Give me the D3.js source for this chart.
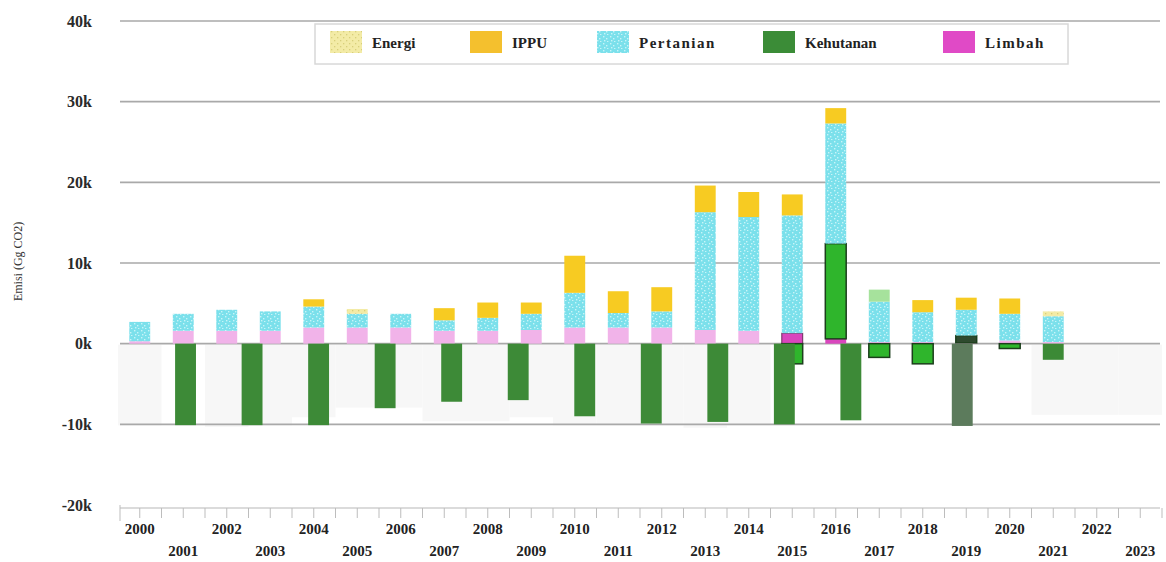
<!DOCTYPE html>
<html>
<head>
<meta charset="utf-8">
<script src="https://cdn.jsdelivr.net/npm/d3@7"></script>
<style>
  body { margin: 0; background: #fff; }
  text { font-family: "Liberation Serif", "DejaVu Serif", serif; }
</style>
</head>
<body>
<svg id="chart"></svg>
<script>
// Emisi per tahun (ribu Gg CO2)
const years = ["2000","2001","2002","2003","2004","2005","2006","2007","2008","2009","2010","2011",
               "2012","2013","2014","2015","2016","2017","2018","2019","2020","2021","2022","2023"];
const limbah    = [0.3, 1.6, 1.6, 1.6, 2.0, 2.0, 2.0, 1.6, 1.6, 1.7, 2.0, 2.0, 2.0, 1.7, 1.6, 1.3, 0.6, 0.2, 0.2, 0.1, 0.4, 0.2, 0, 0];
const kehutanan = [0, 0, 0, 0, 0, 0, 0, 0, 0, 0, 0, 0, 0, 0, 0, -2.5, 11.8, -1.7, -2.5, 0.9, -0.6, -2.0, 0, 0];
const pertanian = [2.4, 2.1, 2.6, 2.4, 2.6, 1.7, 1.7, 1.3, 1.6, 2.0, 4.3, 1.8, 2.0, 14.6, 14.1, 14.6, 14.9, 5.0, 3.7, 3.2, 3.3, 3.2, 0, 0];
const ippu      = [0, 0, 0, 0, 0.9, 0, 0, 1.5, 1.9, 1.4, 4.6, 2.7, 3.0, 3.3, 3.1, 2.6, 1.9, 0, 1.5, 1.5, 1.9, 0, 0, 0];
const energi    = [0, 0, 0, 0, 0, 0.6, 0, 0, 0, 0, 0, 0, 0, 0, 0, 0, 0, 1.5, 0, 0, 0, 0.6, 0, 0];
// serapan hutan (seri kedua, posisi sendiri)
const serapan   = [0, -10.1, -10.1, -10.1, -8.0, -7.2, -7.0, -9.0, -9.9, -9.7, -10.0, -9.5, 0, 0, 0, 0];
const serapanLain = [0, 0, 0, 0, 0, 0, 0, 0, 0, 0, 0, 0, 0, 0, 0, 0, 0, 0, 0, -10.2, 0, 0, 0, 0];
// bayangan abu-abu di bawah nol
const bayangan  = [-10, 0, -10.2, -10, -9, -7.8, -7.8, -9.5, -9.5, -9, -10, -10, -10, -10.3, -10, 0, 0, 0, 0, 0, 0, -8.7, -8.7, -8.7];

const yTicks = [-20, -10, 0, 10, 20, 30, 40];
const legendNames = ["Energi", "IPPU", "Pertanian", "Kehutanan", "Limbah"];

const width = 1166, height = 562;
const svg = d3.select("#chart").attr("width", width).attr("height", height);

const x = d3.scaleBand().domain(years).range([118, 1162]).paddingInner(0.52).paddingOuter(0.26);
const xs = d3.scalePoint().domain(d3.range(serapan.length)).range([119, 1117]);
const y = d3.scaleLinear().domain([-20, 40]).range([505, 21]);

// patterns
const defs = svg.append("defs");
const pPert = defs.append("pattern").attr("id", "pert").attr("patternUnits", "userSpaceOnUse")
    .attr("width", 7).attr("height", 7);
pPert.append("rect").attr("width", 7).attr("height", 7).attr("fill", "#7be0eb");
[[1, 1], [4, 3], [2, 5], [5, 6]].forEach(p => pPert.append("rect")
    .attr("x", p[0]).attr("y", p[1]).attr("width", 1.4).attr("height", 1.4).attr("fill", "#c8f4f8"));
const pEn = defs.append("pattern").attr("id", "energi").attr("patternUnits", "userSpaceOnUse")
    .attr("width", 6).attr("height", 6);
pEn.append("rect").attr("width", 6).attr("height", 6).attr("fill", "#f3eba6");
[[1, 1], [4, 4]].forEach(p => pEn.append("rect")
    .attr("x", p[0]).attr("y", p[1]).attr("width", 1.3).attr("height", 1.3).attr("fill", "#d8cf7a"));

const color = {
    Energi: "url(#energi)", IPPU: "#f7cb22", Pertanian: "url(#pert)",
    Kehutanan: "#2fb52c", Limbah: "#f1b3e9"
};

// ghost bars (very faint)
const step = x.step();
svg.append("g").selectAll("rect").data(years).enter().append("rect")
    .attr("x", d => x(d) - step * 0.26)
    .attr("width", step)
    .attr("y", y(0) + 1)
    .attr("height", (d, i) => y(bayangan[i]) - y(0))
    .attr("fill", "#f7f7f7");

// gridlines
svg.append("g").selectAll("line").data(yTicks.filter(d => d > -20)).enter()
    .append("line")
    .attr("x1", 120).attr("x2", 1160)
    .attr("y1", d => y(d)).attr("y2", d => y(d))
    .attr("stroke", "#a9a9a9").attr("stroke-width", 1.6);

// y axis labels
const yAxis = svg.append("g").attr("transform", "translate(100,0)")
    .call(d3.axisLeft(y).tickValues(yTicks).tickSize(0).tickPadding(8).tickFormat(d => d + "k"));
yAxis.select(".domain").remove();
yAxis.selectAll("text").style("font-family", "Liberation Serif, serif")
    .style("font-size", "16px").style("font-weight", "bold").attr("fill", "#2a2a2a");

svg.append("text")
    .attr("transform", "translate(22," + y(10.2) + ") rotate(-90)")
    .attr("text-anchor", "middle").style("font-size", "12px").attr("fill", "#333")
    .text("Emisi (Gg CO2)");

// bottom axis line and ticks
svg.append("line").attr("x1", 120).attr("x2", 1160).attr("y1", y(-20) + 3).attr("y2", y(-20) + 3)
    .attr("stroke", "#cfcfcf").attr("stroke-width", 1.5);
const tickXs = [];
years.forEach(d => { tickXs.push(x(d) + x.bandwidth() / 2); tickXs.push(x(d) + x.bandwidth() / 2 + step / 2); });
svg.append("g").selectAll("line").data(tickXs).enter().append("line")
    .attr("x1", d => d).attr("x2", d => d)
    .attr("y1", y(-20) + 3).attr("y2", y(-20) + 13)
    .attr("stroke", "#bdbdbd").attr("stroke-width", 1);
svg.append("line").attr("x1", 120).attr("x2", 120).attr("y1", y(-20)).attr("y2", y(-20) + 16)
    .attr("stroke", "#bdbdbd");

svg.append("g").selectAll("text").data(years).enter().append("text")
    .attr("x", d => x(d) + x.bandwidth() / 2)
    .attr("y", (d, i) => i % 2 === 0 ? 534 : 556)
    .attr("text-anchor", "middle")
    .style("font-size", "15px").style("font-weight", "bold").attr("fill", "#222")
    .text(d => d);

// stacked bars per year
const bw = x.bandwidth();
const g = svg.append("g");
years.forEach((yr, i) => {
    const segs = [
        { key: "Limbah", v: limbah[i] },
        { key: "Kehutanan", v: kehutanan[i] },
        { key: "Pertanian", v: pertanian[i] },
        { key: "IPPU", v: ippu[i] },
        { key: "Energi", v: energi[i] }
    ];
    let pos = 0, neg = 0;
    segs.forEach(s => {
        if (!s.v) return;
        let y0, y1;
        if (s.v > 0) { y0 = pos; y1 = pos + s.v; pos = y1; }
        else { y0 = neg + s.v; y1 = neg; neg = y0; }
        const r = g.append("rect")
            .attr("x", x(yr)).attr("width", bw)
            .attr("y", y(y1)).attr("height", y(y0) - y(y1))
            .attr("fill", color[s.key]);
        if (s.key === "Kehutanan") r.attr("stroke", "#1c3f1c").attr("stroke-width", 1.5);
        if (s.key === "Limbah" && yr === "2015") r.attr("fill", "#d946bd").attr("stroke", "#6a2a5a");
        if (s.key === "Limbah" && yr === "2016") r.attr("fill", "#d946bd");
        if (s.key === "Kehutanan" && yr === "2019") r.attr("fill", "#2e4a2e");
        if (s.key === "Kehutanan" && yr === "2021") r.attr("fill", "#3c8a36").attr("stroke", "none");
        if (s.key === "Energi" && yr === "2017") r.attr("fill", "#a6e29c");
    });
});

// second layer of forest sink bars
const serapanData = serapan.map((v, i) => ({ i: i, v: v })).filter(d => d.v < 0);
svg.append("g").selectAll("rect").data(serapanData).enter().append("rect")
    .attr("x", d => xs(d.i) - bw / 2)
    .attr("width", bw)
    .attr("y", y(0))
    .attr("height", d => y(d.v) - y(0))
    .attr("fill", "#3d8a37");
const lainData = years.map((yr, i) => ({ yr: yr, v: serapanLain[i] })).filter(d => d.v < 0);
svg.append("g").selectAll("rect").data(lainData).enter().append("rect")
    .attr("x", d => x(d.yr) - 4)
    .attr("width", bw)
    .attr("y", y(0))
    .attr("height", d => y(d.v) - y(0))
    .attr("fill", "#5c7b5c");

// legend
const lg = svg.append("g");
lg.append("rect").attr("x", 315).attr("y", 24).attr("width", 753).attr("height", 40)
    .attr("fill", "#fff").attr("stroke", "#d8d8d8").attr("stroke-width", 1.5);
const legendX = [330, 470, 597, 763, 943];
const legendCol = ["url(#energi)", "#f4c02e", "url(#pert)", "#3b8c37", "#e04ac6"];
legendNames.forEach((n, i) => {
    lg.append("rect").attr("x", legendX[i]).attr("y", 31).attr("width", 32).attr("height", 22)
        .attr("fill", legendCol[i]);
    lg.append("text").attr("x", legendX[i] + 42).attr("y", 48)
        .style("font-size", "15px").style("font-weight", "bold").attr("fill", "#222")
        .style("letter-spacing", n === "Pertanian" || n === "Limbah" ? "1.5px" : "0px")
        .text(n);
});
</script>
</body>
</html>
